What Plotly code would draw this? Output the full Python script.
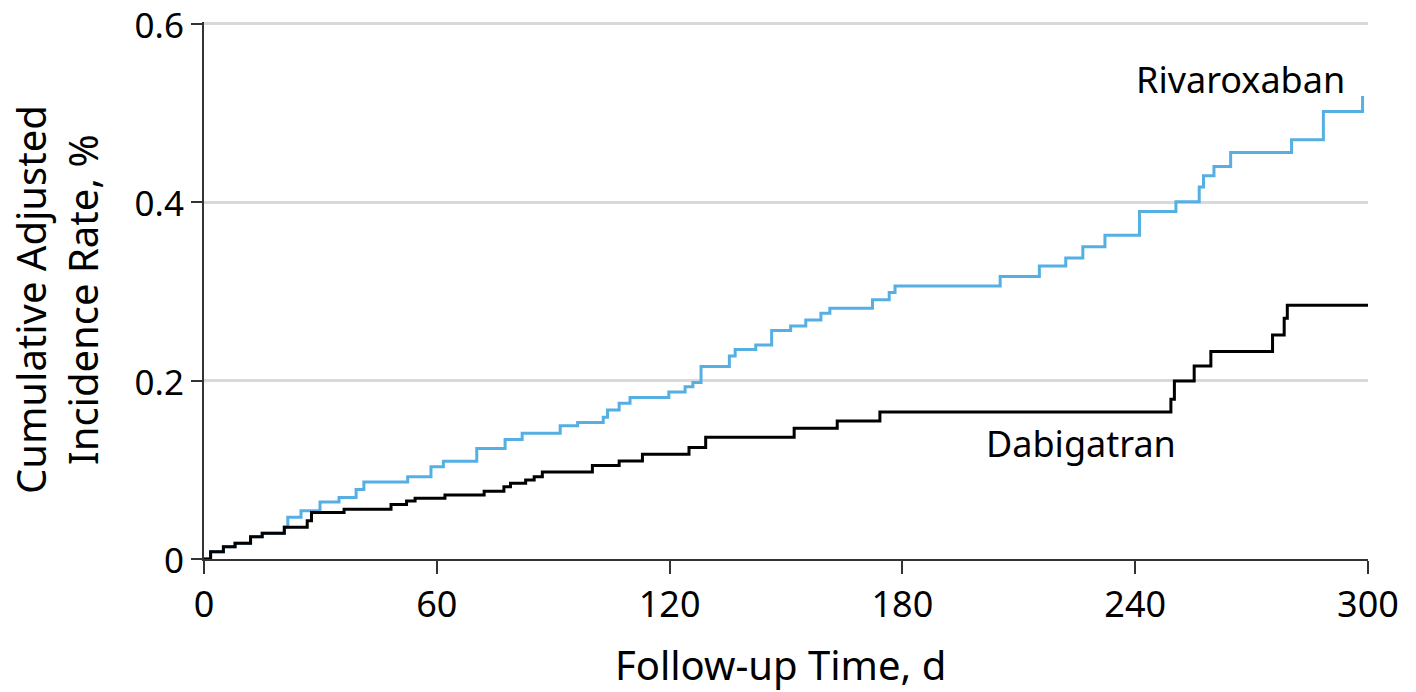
import plotly.graph_objects as go

# Step curves: event times (days) and cumulative adjusted incidence (%)
dabigatran_days = [0, 1.7, 5.0, 8.0, 12.0, 15.0, 20.7, 26.6, 27.7, 36.1, 48.2, 52.2, 54.4,
                   62.1, 72.2, 77.3, 79.0, 82.9, 85.1, 87.2, 100.1, 107.0, 113.0, 125.0,
                   129.3, 152.1, 163.2, 174.2, 249.2, 250.1, 255.2, 259.5, 275.4, 278.4,
                   279.2, 300]
dabigatran_rate = [0, 0.008, 0.0138, 0.0176, 0.025, 0.0288, 0.0355, 0.043, 0.052, 0.0557,
                   0.061, 0.065, 0.068, 0.0718, 0.076, 0.081, 0.085, 0.0886, 0.0923, 0.0976,
                   0.1047, 0.110, 0.1174, 0.125, 0.1365, 0.1466, 0.1548, 0.1648, 0.179,
                   0.1996, 0.2164, 0.2325, 0.2512, 0.270, 0.2845, 0.2845]

rivaroxaban_days = [0, 1.7, 5.0, 8.0, 12.0, 15.0, 20.7, 21.6, 25.0, 29.9, 34.8, 39.2, 41.2,
                    52.5, 58.5, 61.7, 70.3, 77.6, 82.0, 91.8, 96.3, 102.9, 104.0, 107.0,
                    109.8, 119.8, 124.0, 126.0, 128.1, 135.4, 136.9, 142.2, 146.3, 151.2,
                    155.1, 159.0, 161.3, 172.3, 176.6, 178.1, 205.2, 215.3, 222.1, 226.5,
                    232.2, 241.1, 250.5, 256.5, 257.6, 260.3, 264.6, 280.3, 288.5, 298.6]
rivaroxaban_rate = [0, 0.008, 0.0138, 0.0176, 0.025, 0.0288, 0.036, 0.0467, 0.054, 0.064,
                    0.069, 0.078, 0.0864, 0.0923, 0.1035, 0.1096, 0.1238, 0.134, 0.141,
                    0.1495, 0.153, 0.159, 0.167, 0.1746, 0.181, 0.1873, 0.193, 0.198, 0.2157,
                    0.2277, 0.2348, 0.240, 0.2562, 0.2613, 0.268, 0.2755, 0.281, 0.2905,
                    0.2987, 0.306, 0.3166, 0.3286, 0.3375, 0.350, 0.363, 0.3895, 0.4004,
                    0.417, 0.4295, 0.440, 0.4557, 0.470, 0.5016, 0.519]

x_ticks = [0, 60, 120, 180, 240, 300]
y_ticks = [0, 0.2, 0.4, 0.6]
y_tick_labels = ["0", "0.2", "0.4", "0.6"]

FONT = "Noto Sans, Open Sans, Liberation Sans, sans-serif"
TICK_SIZE = 36
Y_TICK_SIZE = 35
TITLE_SIZE = 40
LABEL_SIZE = 36

fig = go.Figure()
fig.add_trace(go.Scatter(x=rivaroxaban_days, y=rivaroxaban_rate, mode="lines",
                         line=dict(shape="hv", color="#55afe3", width=3),
                         name="Rivaroxaban", hoverinfo="skip"))
fig.add_trace(go.Scatter(x=dabigatran_days, y=dabigatran_rate, mode="lines",
                         line=dict(shape="hv", color="#000000", width=3),
                         name="Dabigatran", hoverinfo="skip"))

fig.add_annotation(x=294.5, y=0.538, text="Rivaroxaban", showarrow=False,
                   xanchor="right", yanchor="middle",
                   font=dict(family=FONT, size=LABEL_SIZE, color="#000"))
fig.add_annotation(x=251.0, y=0.129, text="Dabigatran", showarrow=False,
                   xanchor="right", yanchor="middle",
                   font=dict(family=FONT, size=LABEL_SIZE, color="#000"))

# axis titles as paper-positioned annotations
fig.add_annotation(xref="paper", yref="paper", x=0.4953, y=-0.1965,
                   text="Follow-up Time, d", showarrow=False,
                   xanchor="center", yanchor="middle",
                   font=dict(family=FONT, size=TITLE_SIZE, color="#000"))
fig.add_annotation(xref="paper", yref="paper", x=-0.1271, y=0.4823,
                   text="Cumulative Adjusted<br>Incidence Rate, %", showarrow=False,
                   textangle=-90, xanchor="center", yanchor="middle",
                   font=dict(family=FONT, size=TITLE_SIZE, color="#000"))

fig.update_layout(
    width=1416, height=692,
    margin=dict(l=204, r=48, t=22, b=133, autoexpand=False),
    paper_bgcolor="white", plot_bgcolor="white",
    showlegend=False,
    font=dict(family=FONT, color="#000"),
)
fig.update_xaxes(
    range=[0, 300], tickvals=x_ticks, ticktext=[str(v) for v in x_ticks],
    showgrid=False, zeroline=False, automargin=False,
    showline=True, linecolor="#333", linewidth=2,
    ticks="outside", ticklen=13, tickwidth=2, tickcolor="#333",
    ticklabeloverflow="allow",
    tickfont=dict(family=FONT, size=TICK_SIZE, color="#000"),
)
fig.update_yaxes(
    range=[0, 0.602], tickvals=y_ticks, ticktext=y_tick_labels,
    showgrid=True, gridcolor="#d9d9d9", gridwidth=3,
    zeroline=False, automargin=False,
    showline=True, linecolor="#333", linewidth=2,
    ticks="outside", ticklen=11, tickwidth=2, tickcolor="#333",
    ticklabeloverflow="allow", ticklabelshift=2,
    tickfont=dict(family=FONT, size=Y_TICK_SIZE, color="#000"),
)

fig.write_html("out.html", config={"displayModeBar": False},
               post_script="document.body.style.margin='0px';document.body.style.overflow='hidden';")
